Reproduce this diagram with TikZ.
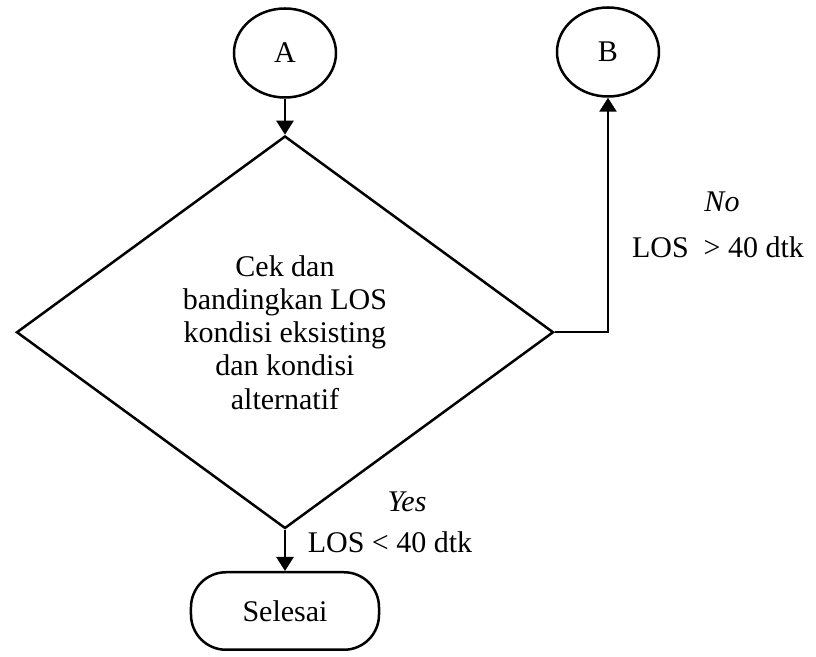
\documentclass[tikz,border=0pt]{standalone}
\usepackage{fontspec}
\setmainfont{Liberation Serif}
\usetikzlibrary{shapes.geometric,arrows.meta,positioning}
\tikzset{
  connector/.style={
    draw=black,
    ellipse,
    line width=1pt,
    minimum width=40.8pt,
    minimum height=35.6pt,
    inner sep=0pt,
    font=\fontsize{12}{13.3}\selectfont
  },
  decision/.style={
    draw=black,
    diamond,
    line width=1pt,
    minimum width=214.8pt,
    minimum height=157pt,
    inner sep=0pt,
    align=center,
    font=\fontsize{12}{13.3}\selectfont
  },
  terminal/.style={
    draw=black,
    rounded corners=14pt,
    line width=1pt,
    minimum width=75.2pt,
    minimum height=31pt,
    font=\fontsize{12}{13.3}\selectfont
  },
  condtext/.style={
    inner sep=0pt,
    font=\fontsize{12}{13.3}\selectfont
  },
  arrow/.style={
    -{Triangle[length=5.6pt,width=6.8pt]},
    line width=1pt,
    draw=black
  }
}
\begin{document}
\begin{tikzpicture}[x=0.4pt,y=-0.4pt]
  \useasboundingbox (0,0) rectangle (816,657);

  \node[connector] (A) at (285,53) {A};
  \node[decision, below=14.4pt of A] (check) {Cek dan\\bandingkan LOS\\kondisi eksisting\\dan kondisi\\alternatif};
  \node[terminal, below=16.5pt of check] (finish) {Selesai};
  \node[connector] (B) at (608,52) {B};

  \draw[arrow] (A) -- (check);
  \draw[arrow] (check) -- (finish);
  \draw[arrow] (check.east) -| (B.south);

  \node[condtext, font=\fontsize{12}{13.3}\selectfont\itshape] (no) at (722,202) {No};
  \node[condtext] (nocond) at (718,247) {LOS~ > 40 dtk};
  \node[condtext, font=\fontsize{12}{13.3}\selectfont\itshape] (yes) at (407,502) {Yes};
  \node[condtext] (yescond) at (390,542) {LOS < 40 dtk};
\end{tikzpicture}
\end{document}
